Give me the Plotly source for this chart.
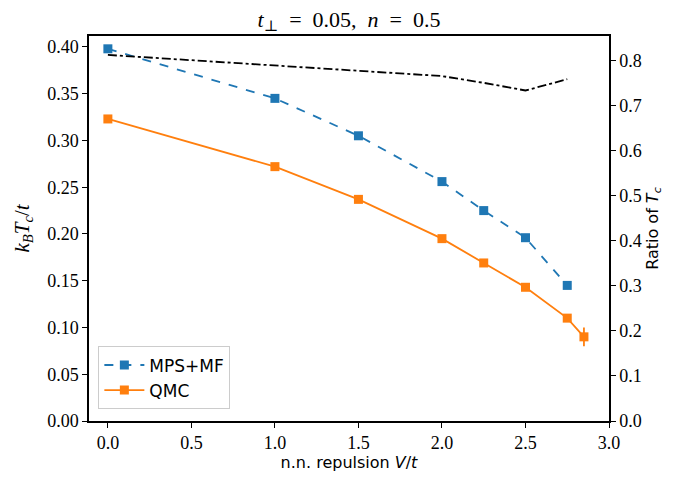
import plotly.graph_objects as go

V_mps = [0.0, 1.0, 1.5, 2.0, 2.25, 2.5, 2.75]
Tc_mps = [0.398, 0.345, 0.305, 0.256, 0.225, 0.196, 0.145]
Tc_mps_err = [0.003, 0.003, 0.003, 0.003, 0.003, 0.003, 0.003]

V_qmc = [0.0, 1.0, 1.5, 2.0, 2.25, 2.5, 2.75, 2.85]
Tc_qmc = [0.323, 0.272, 0.237, 0.195, 0.169, 0.143, 0.110, 0.090]
Tc_qmc_err = [0.002, 0.002, 0.002, 0.002, 0.002, 0.002, 0.004, 0.010]

V_ratio = [0.0, 1.0, 1.5, 2.0, 2.25, 2.5, 2.75]
ratio = [0.813, 0.789, 0.777, 0.766, 0.751, 0.734, 0.759]

x_ticks = [0.0, 0.5, 1.0, 1.5, 2.0, 2.5, 3.0]
y_ticks = [0.00, 0.05, 0.10, 0.15, 0.20, 0.25, 0.30, 0.35, 0.40]
y2_ticks = [0.0, 0.1, 0.2, 0.3, 0.4, 0.5, 0.6, 0.7, 0.8]

blue = "#1f77b4"
orange = "#ff7f0e"
serif = "Liberation Serif, DejaVu Serif, serif"
sans = "DejaVu Sans, Arial, sans-serif"

fig = go.Figure()
fig.add_trace(go.Scatter(
    x=V_mps, y=Tc_mps, name="MPS+MF", mode="lines+markers",
    line=dict(color=blue, dash="dash", width=1.8),
    marker=dict(symbol="square", size=9, color=blue),
    error_y=dict(type="data", array=Tc_mps_err, color=blue, thickness=1.8, width=0),
))
fig.add_trace(go.Scatter(
    x=V_qmc, y=Tc_qmc, name="QMC", mode="lines+markers",
    line=dict(color=orange, width=1.8),
    marker=dict(symbol="square", size=9, color=orange),
    error_y=dict(type="data", array=Tc_qmc_err, color=orange, thickness=1.8, width=0),
))
fig.add_trace(go.Scatter(
    x=V_ratio, y=ratio, name="ratio", mode="lines", showlegend=False,
    line=dict(color="black", dash="dashdot", width=1.8), yaxis="y2",
))

axis_common = dict(showline=True, linecolor="black", linewidth=1.5,
                   ticks="outside", ticklen=5, tickwidth=1.2, tickcolor="black",
                   showgrid=False, zeroline=False,
                   tickfont=dict(family=serif, size=18, color="black"))

fig.update_layout(
    width=681, height=473,
    margin=dict(l=80, r=80, t=28, b=57),
    plot_bgcolor="white", paper_bgcolor="white",
    title=dict(text="<i>t</i><sub>⊥</sub>  =  0.05,  <i>n</i>  =  0.5",
               font=dict(family=serif, size=22, color="black"),
               x=0.5, xanchor="center", xref="paper", yref="container",
               y=0.977, yanchor="middle"),
    xaxis=dict(range=[-0.113, 3.0], tickvals=x_ticks,
               ticktext=[f"{v:.1f}" for v in x_ticks], mirror=True,
               title=dict(text="n.n. repulsion <i>V</i>/<i>t</i>",
                          font=dict(family=sans, size=16, color="black"), standoff=4),
               **axis_common),
    yaxis=dict(range=[0, 0.4117], tickvals=y_ticks,
               ticktext=[f"{v:.2f}" for v in y_ticks],
               title=dict(text="<i>k</i><sub><i>B</i></sub><i>T</i><sub><i>c</i></sub>/<i>t</i>",
                          font=dict(family=serif, size=21, color="black"), standoff=12),
               **axis_common),
    yaxis2=dict(range=[0, 0.855], tickvals=y2_ticks,
                ticktext=[f"{v:.1f}" for v in y2_ticks],
                overlaying="y", side="right",
                title=dict(text="Ratio of <i>T</i><sub><i>c</i></sub>",
                           font=dict(family=sans, size=16, color="black"), standoff=6),
                **axis_common),
    legend=dict(x=0.018, y=0.03, xanchor="left", yanchor="bottom",
                bgcolor="rgba(255,255,255,0.8)", bordercolor="#cccccc", borderwidth=1,
                font=dict(family=sans, size=17, color="black"),
                itemwidth=40, tracegroupgap=2),
)

fig.write_html("out.html")
